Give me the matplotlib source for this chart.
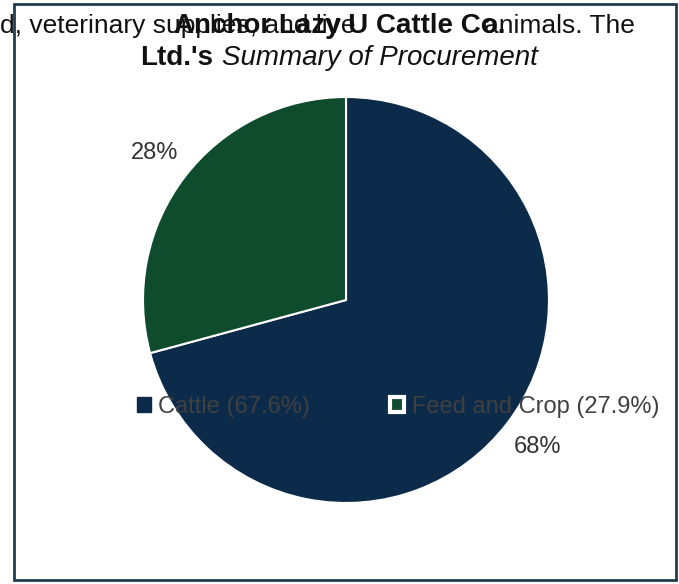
import matplotlib.pyplot as plt
from matplotlib.patches import Patch, Rectangle

plt.rcParams['font.family'] = ['Liberation Sans', 'DejaVu Sans']

categorias = ['Cattle', 'Feed and Crop']
valores = [67.6, 27.9]
etiquetas = ['68%', '28%']
colores = ['#0c2b4b', '#0f4c2e']

fig = plt.figure(figsize=(6.79, 5.84), dpi=100)

# marco del recuadro escaneado
fig.patches.append(Rectangle((14 / 679, 4 / 584), 662 / 679, 576 / 584,
                             transform=fig.transFigure, fill=False,
                             edgecolor='#1f3d4f', linewidth=2))

# texto del documento que queda detras del titulo
fig.text(0 / 679, 1 - 26 / 584, 'd, veterinary supplies, and live',
         fontsize=19, ha='left', va='center', color='#111111')
fig.text(635 / 679, 1 - 26 / 584, 'animals. The',
         fontsize=19, ha='right', va='center', color='#111111')

# titulo
fig.text(340 / 679, 1 - 26 / 584, 'Anchor Lazy U Cattle Co.',
         fontsize=20, fontweight='bold', ha='center', va='center', color='#111111')
fig.text(140 / 679, 1 - 58 / 584, "Ltd.'s", fontsize=20, fontweight='bold',
         ha='left', va='center', color='#111111')
fig.text(222 / 679, 1 - 58 / 584, 'Summary of Procurement', fontsize=20,
         style='italic', ha='left', va='center', color='#111111')

cx, cy, r = 346, 300, 203
ax = fig.add_axes([(cx - r) / 679, (584 - cy - r) / 584, 2 * r / 679, 2 * r / 584])
wedges, textos = ax.pie(valores, labels=etiquetas, colors=colores, startangle=90,
                        counterclock=False, labeldistance=1.19,
                        wedgeprops=dict(edgecolor='white', linewidth=1.5),
                        textprops=dict(fontsize=17, color='#333333'))
for t in textos:
    t.set_ha('center')
    t.set_va('center')
ax.set_xlim(-1, 1)
ax.set_ylim(-1, 1)
ax.set_aspect('equal')
ax.axis('off')

manijas = [Patch(facecolor=colores[0], edgecolor=colores[0]),
           Patch(facecolor=colores[1], edgecolor='white', linewidth=3)]
textos_ley = ['%s (%.1f%%)' % (c, v) for c, v in zip(categorias, valores)]
fig.legend(manijas, textos_ley, ncol=2, frameon=False,
           loc='center', bbox_to_anchor=(398 / 679, 1 - 407 / 584),
           fontsize=17, labelcolor='#404040', handlelength=0.6,
           handleheight=0.6, handletextpad=0.3, columnspacing=3.4)

fig.savefig('out.png', dpi=100)
